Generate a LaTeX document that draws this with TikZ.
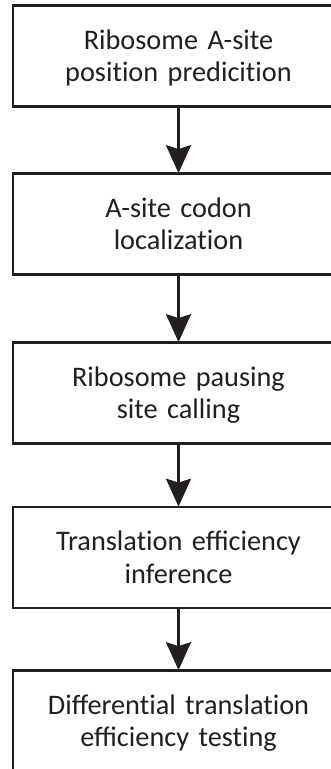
\documentclass[tikz,border=0pt]{standalone}
\usepackage{fontspec}
\setmainfont{Carlito}
\usetikzlibrary{arrows.meta}
\definecolor{ink}{HTML}{231F20}
\newcommand\myti{t\kern0pt i}
\tikzset{
  stepbox/.style={draw=ink, line width=2.7pt, minimum width=331pt, minimum height=101pt,
    text width=320pt, align=center, inner sep=0pt, text=ink,
    font=\fontsize{28.3pt}{32.5pt}\selectfont,
    execute at begin node={\rule{0pt}{25pt}},
    execute at end node={\rule[-6pt]{0pt}{6pt}}},
  flowarrow/.style={draw=ink, line width=2.6pt,
    -{Stealth[length=28pt, width=25pt, inset=4pt]}, shorten >=-1pt}
}
\begin{document}
\begin{tikzpicture}[x=1pt, y=-1pt]
\useasboundingbox (0,0) rectangle (331,769);
\clip (0,0) rectangle (331,769);
\fill[white] (0,0) rectangle (331,769);
\node[stepbox] (b1) at (178.5,56) {Ribosome A-site\\posi\myti on predici\myti on};
\node[stepbox] (b2) at (178.5,224) {A-site codon\\localiza\myti on};
\node[stepbox] (b3) at (178.5,393) {Ribosome pausing\\site calling};
\node[stepbox] (b4) at (178.5,557.5) {Transla\myti on efficiency\\inference};
\node[stepbox] (b5) at (178.5,721) {Differen\myti al transla\myti on\\efficiency tes\myti ng};
\draw[flowarrow] (b1.south) -- (b2.north);
\draw[flowarrow] (b2.south) -- (b3.north);
\draw[flowarrow] (b3.south) -- (b4.north);
\draw[flowarrow] (b4.south) -- (b5.north);
\end{tikzpicture}
\end{document}
